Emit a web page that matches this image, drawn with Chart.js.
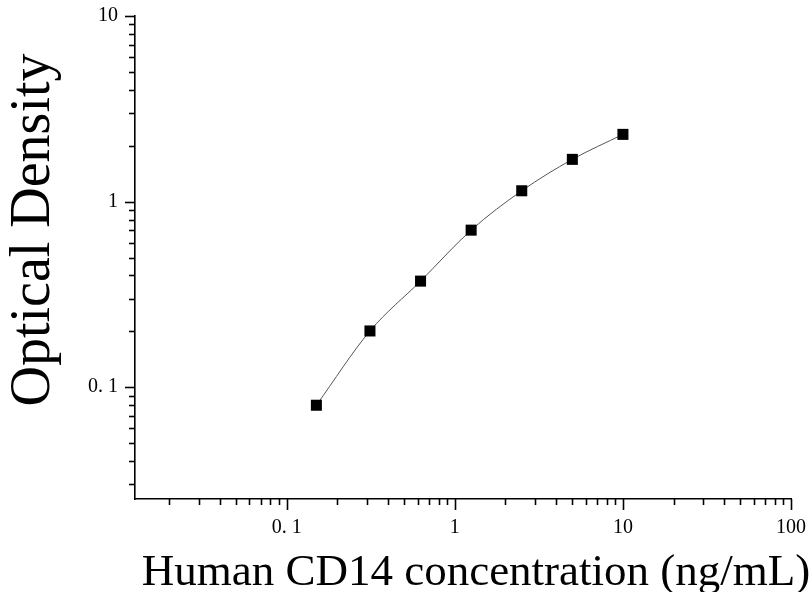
<!DOCTYPE html>
<html>
<head>
<meta charset="utf-8">
<script src="https://cdn.jsdelivr.net/npm/chart.js@4/dist/chart.umd.min.js"></script>
<style>
  html, body { margin: 0; padding: 0; background: #fff; }
  #wrap { width: 810px; height: 592px; position: relative; }
</style>
</head>
<body>
<div id="wrap"><canvas id="c" width="810" height="592"></canvas></div>
<script>
// Data
const concentrations = [0.15, 0.3125, 0.625, 1.25, 2.5, 5, 10];
const opticalDensity = [0.080, 0.201, 0.373, 0.702, 1.144, 1.689, 2.303];
const xTickLabels = { "0.1": "0. 1", "1": "1", "10": "10", "100": "100" };
const yTickLabels = { "0.1": "0. 1", "1": "1", "10": "10" };
const xTitle = "Human CD14 concentration (ng/mL)";
const yTitle = "Optical Density";

const points = concentrations.map((c, i) => ({ x: c, y: opticalDensity[i] }));

function isDecade(v) {
  const l = Math.log10(v);
  return Math.abs(l - Math.round(l)) < 1e-9;
}
function decadeKey(v) {
  const l = Math.round(Math.log10(v));
  return l < 0 ? (Math.pow(10, l)).toFixed(-l) : String(Math.pow(10, l));
}

const SERIF = '"Liberation Serif", "Times New Roman", serif';

const customDraw = {
  id: 'customDraw',
  afterDraw(chart) {
    const ctx = chart.ctx;
    const xs = chart.scales.x, ys = chart.scales.y;
    const area = chart.chartArea;
    ctx.save();
    ctx.strokeStyle = '#000';
    ctx.lineWidth = 1.6;
    // x ticks
    for (let e = -2; e <= 2; e++) {
      for (let m = 1; m <= 9; m++) {
        const v = m * Math.pow(10, e);
        if (v < xs.min - 1e-12 || v > xs.max + 1e-12) continue;
        const px = Math.round(xs.getPixelForValue(v)) + 0.5;
        const len = m === 1 ? 11 : 6;
        ctx.beginPath();
        ctx.moveTo(px, area.bottom);
        ctx.lineTo(px, area.bottom + len);
        ctx.stroke();
      }
    }
    // y ticks
    for (let e = -2; e <= 1; e++) {
      for (let m = 1; m <= 9; m++) {
        const v = m * Math.pow(10, e);
        if (v < ys.min - 1e-12 || v > ys.max + 1e-12) continue;
        const py = Math.round(ys.getPixelForValue(v)) + 0.5;
        const len = m === 1 ? 10 : 6;
        ctx.beginPath();
        ctx.moveTo(area.left, py);
        ctx.lineTo(area.left - len, py);
        ctx.stroke();
      }
    }
    // axis titles
    ctx.fillStyle = '#000';
    ctx.font = '45px ' + SERIF;
    ctx.textAlign = 'center';
    ctx.textBaseline = 'alphabetic';
    ctx.fillText(xTitle, 476, 585);

    ctx.translate(49, 230);
    ctx.rotate(-Math.PI / 2);
    ctx.font = '56px ' + SERIF;
    ctx.fillText(yTitle, 0, 0);
    ctx.restore();
  }
};

new Chart(document.getElementById('c'), {
  type: 'scatter',
  data: {
    datasets: [{
      data: points,
      showLine: true,
      cubicInterpolationMode: 'monotone',
      borderColor: '#555',
      borderWidth: 1,
      pointStyle: 'rect',
      pointRadius: 7.8,
      pointHoverRadius: 7.8,
      pointBackgroundColor: '#000',
      pointBorderColor: '#000',
      pointBorderWidth: 0
    }]
  },
  options: {
    responsive: false,
    animation: false,
    events: [],
    layout: { padding: { top: 16, right: 19, left: 0, bottom: 0 } },
    plugins: { legend: { display: false }, tooltip: { enabled: false } },
    scales: {
      x: {
        type: 'logarithmic',
        min: 0.0125,
        max: 100,
        grid: { display: false, drawTicks: false },
        border: { display: true, color: '#000', width: 1.6 },
        ticks: {
          autoSkip: false,
          maxRotation: 0,
          padding: 17,
          color: '#000',
          font: { family: SERIF, size: 20 },
          callback: (v) => isDecade(v) ? (xTickLabels[decadeKey(v)] || '') : ''
        },
        afterFit: (s) => { s.height = 93; s.paddingLeft = 0; s.paddingRight = 0; }
      },
      y: {
        type: 'logarithmic',
        min: 0.025,
        max: 10,
        grid: { display: false, drawTicks: false },
        border: { display: true, color: '#000', width: 1.6 },
        ticks: {
          autoSkip: false,
          padding: 17,
          color: '#000',
          font: { family: SERIF, size: 20 },
          callback: (v) => isDecade(v) ? (yTickLabels[decadeKey(v)] || '') : ''
        },
        afterFit: (s) => { s.width = 135; s.paddingTop = 0; s.paddingBottom = 0; }
      }
    }
  },
  plugins: [customDraw]
});
</script>
</body>
</html>
